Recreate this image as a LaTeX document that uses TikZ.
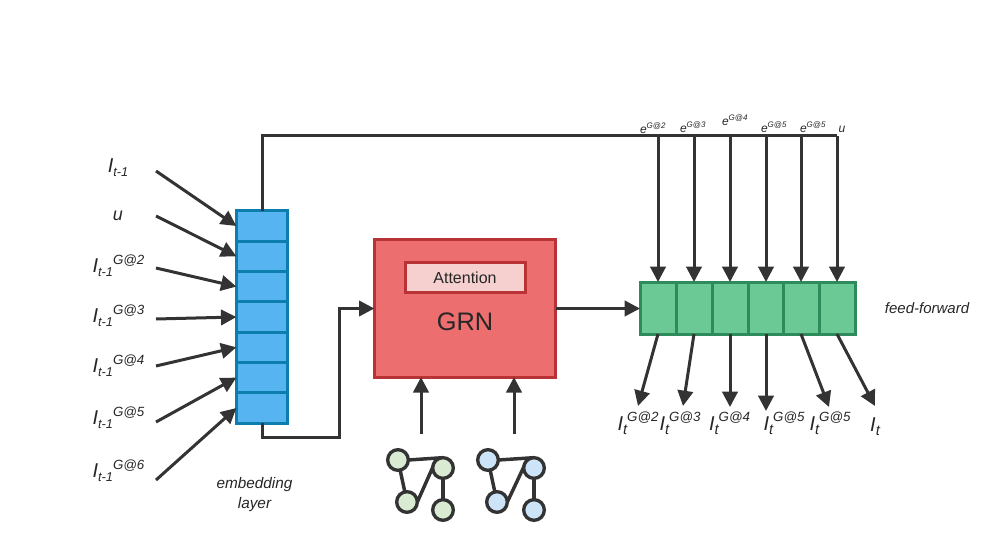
\documentclass[tikz,border=0pt]{standalone}
\usepackage{fontspec}
\setmainfont{Liberation Sans}
\usetikzlibrary{arrows.meta,backgrounds}
\definecolor{ln}{HTML}{333333}
\definecolor{bluef}{HTML}{56B4F0}
\definecolor{blued}{HTML}{0C7EAE}
\definecolor{redf}{HTML}{EC6E6F}
\definecolor{redd}{HTML}{B83236}
\definecolor{attf}{HTML}{F6CFCF}
\definecolor{greenf}{HTML}{6BC995}
\definecolor{greend}{HTML}{2E8B5B}
\definecolor{gng}{HTML}{D9EBD3}
\definecolor{gnb}{HTML}{CDE3F8}
\newcommand{\fs}[1]{\fontsize{#1}{#1}\selectfont}
\newcommand{\Iin}[1]{{\fs{15}\itshape I}\raisebox{-3pt}{\fs{9.6}\itshape t-1}\raisebox{6pt}{\fs{10}\itshape #1}}
\newcommand{\Iout}[1]{{\fs{15}\itshape I}\raisebox{-3pt}{\fs{11}\itshape t}\raisebox{7pt}{\fs{10}\itshape #1}}
\newcommand{\Etop}[1]{{\fs{9}\itshape e}\raisebox{3.5pt}{\fs{6}\itshape #1}}
\tikzset{
  x=0.75pt,y=-0.75pt,
  conn/.style={draw=ln,line width=2.25pt},
  arr/.style={conn,-{Triangle[length=11.5pt,width=11.5pt]}},
  bcell/.style={rectangle,draw=blued,fill=bluef,line width=2.25pt,minimum width=38.5pt,minimum height=22.75pt,inner sep=0pt,outer sep=0pt},
  gcell/.style={rectangle,draw=greend,fill=greenf,line width=2.25pt,minimum width=27pt,minimum height=39pt,inner sep=0pt,outer sep=0pt},
  lab/.style={inner sep=0pt,outer sep=0pt,text=black!85},
  gvg/.style={circle,draw=ln,fill=gng,line width=2.5pt,minimum size=15.5pt,inner sep=0pt,outer sep=0pt},
  gvb/.style={circle,draw=ln,fill=gnb,line width=2.5pt,minimum size=15.5pt,inner sep=0pt,outer sep=0pt},
  gedge/.style={draw=ln,line width=2.6pt},
}
\begin{document}
\begin{tikzpicture}
\useasboundingbox (0,0) rectangle (999,556);
% embedding stack
\foreach \n/\y in {1/226,2/256.3,3/286.6,4/317,5/347.3,6/377.6,7/408}
  \node[bcell] (c\n) at (262,\y) {};
% feed-forward cells
\foreach \n/\x in {1/658,2/694,3/730,4/766,5/801,6/837}
  \node[gcell] (r\n) at (\x,308) {};
% GRN
\node[rectangle,draw=redd,fill=redf,line width=2.25pt,minimum width=136pt,minimum height=103pt,inner sep=0pt,outer sep=0pt] (grn) at (465,308.5) {};
\node[lab] (grntext) at (465,322) {\fs{19}GRN};
\node[rectangle,draw=redd,fill=attf,line width=2.25pt,minimum width=90pt,minimum height=22pt,inner sep=0pt,outer sep=0pt,text=black!85] (att) at (465,277.5) {\fs{12}Attention};
% free ends
\foreach \n/\x/\y in {1/156/171,2/156/216,3/156/268,4/156/319,5/156/366,6/156/422,7/156/480}
  \coordinate (in\n) at (\x,\y);
\foreach \n in {1,...,7}
  \draw[arr] (in\n) -- (c\n.west);
\foreach \n/\x/\y in {1/638/406,2/683/406,3/730/407,4/766/411,5/829/407,6/875/406}
  \coordinate (out\n) at (\x,\y);
\foreach \n in {1,...,6}
  \draw[arr] (r\n.south) -- (out\n);
% top bus
\coordinate (top) at (262,136);
\draw[conn] (c1.north) -- (top) -- (r6.north |- top);
\foreach \n in {1,...,6}
  \draw[arr] (r\n.north |- top) -- (r\n.north);
% lower link
\coordinate (b1) at (339,437);
\draw[arr] (c7.south) |- (b1) |- (grn.west);
\draw[arr] (grn.east) -- (grn.east -| r1.west);
% graph inputs
\coordinate (u1) at (421,434);
\coordinate (u2) at (514,434);
\draw[arr] (u1) -- (u1 |- grn.south);
\draw[arr] (u2) -- (u2 |- grn.south);
% graphs
\node[gvg] (a1) at (398,460) {};
\node[gvg] (a2) at (443,468) {};
\node[gvg] (a3) at (407,502) {};
\node[gvg] (a4) at (443,510) {};
\node[gvb] (b1n) at (488,460) {};
\node[gvb] (b2n) at (534,468) {};
\node[gvb] (b3n) at (497,502) {};
\node[gvb] (b4n) at (534,510) {};
\begin{scope}[on background layer]
\draw[gedge] (a1.east) -- (a2.north);
\draw[gedge] (a1) -- (a3);
\draw[gedge] (a3.east) -- (a2.north west);
\draw[gedge] (a2) -- (a4);
\draw[gedge] (b1n.east) -- (b2n.north);
\draw[gedge] (b1n) -- (b3n);
\draw[gedge] (b3n.east) -- (b2n.north west);
\draw[gedge] (b2n) -- (b4n);
\end{scope}
% left labels
\node[lab] (l1) at (118,168) {{\fs{15}\itshape I}\raisebox{-3pt}{\fs{9.6}\itshape t-1}};
\node[lab] (l2) at (118,216) {\fs{13.5}\itshape u};
\node[lab] (l3) at (118.5,266) {\Iin{G@2}};
\node[lab] (l4) at (118.5,316) {\Iin{G@3}};
\node[lab] (l5) at (118.5,366) {\Iin{G@4}};
\node[lab] (l6) at (118.5,418) {\Iin{G@5}};
\node[lab] (l7) at (118.5,471) {\Iin{G@6}};
% top labels
\node[lab] (e1) at (640,128) [anchor=west] {\Etop{G@2}};
\node[lab] (e2) at (680,127) [anchor=west] {\Etop{G@3}};
\node[lab] (e3) at (722,120) [anchor=west] {\Etop{G@4}};
\node[lab] (e4) at (761,127) [anchor=west] {\Etop{G@5}};
\node[lab] (e5) at (800,127) [anchor=west] {\Etop{G@5}};
\node[lab] (e6) at (842,129) {\fs{9}\itshape u};
% output labels
\node[lab] (o1) at (638,423) {\Iout{G@2}};
\node[lab] (o2) at (680,423) {\Iout{G@3}};
\node[lab] (o3) at (729.5,423) {\Iout{G@4}};
\node[lab] (o4) at (784,423) {\Iout{G@5}};
\node[lab] (o5) at (830,423) {\Iout{G@5}};
\node[lab] (o6) at (875,427) {{\fs{15}\itshape I}\raisebox{-3pt}{\fs{11}\itshape t}};
% captions
\node[lab] (ff) at (927,308) {\fs{11.25}\itshape feed-forward};
\node[lab,align=center] (emb) at (254.5,495) {\fs{11.5}\itshape embedding\\[3pt]\fs{11.5}\itshape layer};
\end{tikzpicture}
\end{document}
